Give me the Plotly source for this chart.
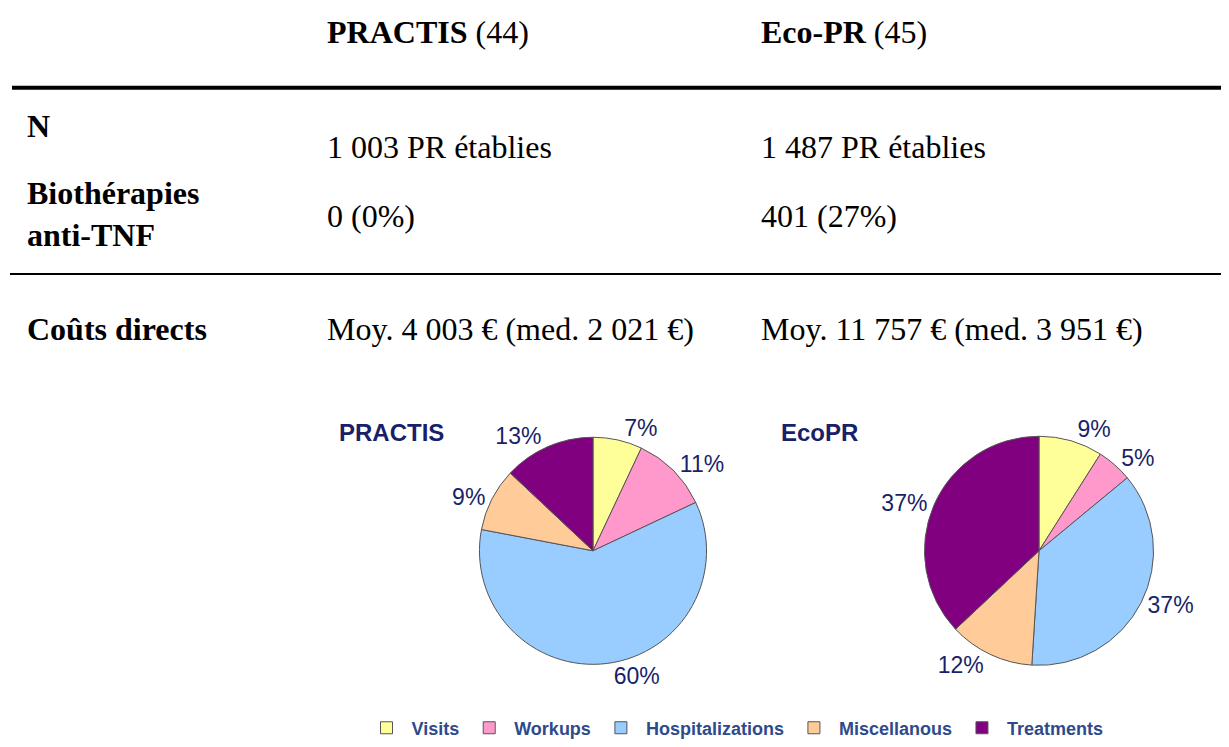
import plotly.graph_objects as go

# the page body has an 8px margin, so the figure is drawn 8px in and sized to fit
OFF = 8
W, H = 1229 - OFF, 747 - OFF

# cost breakdown, % of direct costs
categories = ["Visits", "Workups", "Hospitalizations", "Miscellanous", "Treatments"]
practis_pct = [7, 11, 60, 9, 13]
ecopr_pct = [9, 5, 37, 12, 37]
slice_colors = ["#ffff99", "#ff99cc", "#99ccff", "#ffcc99", "#800080"]

# table text
col_heads = ["<b>PRACTIS</b> (44)", "<b>Eco-PR</b> (45)"]
row_heads = ["<b>N</b>", "<b>Biothérapies<br>anti-TNF</b>", "<b>Coûts directs</b>"]
n_vals = ["1 003 PR établies", "1 487 PR établies"]
tnf_vals = ["0 (0%)", "401 (27%)"]
cost_vals = ["Moy. 4 003 € (med. 2 021 €)", "Moy. 11 757 € (med. 3 951 €)"]
pie_titles = ["PRACTIS", "EcoPR"]

SANS = "Liberation Sans, Arial, sans-serif"


def px(x):
    return (x - OFF) / W


def py(y):
    return 1 - (y - OFF) / H


def pie_domain(cx, cy, r):
    return dict(x=[px(cx - r), px(cx + r)], y=[py(cy + r), py(cy - r)])


fig = go.Figure()
for vals, dom, show in [(practis_pct, pie_domain(593, 553, 114), True),
                        (ecopr_pct, pie_domain(1039, 553, 115), False)]:
    fig.add_trace(go.Pie(labels=categories, values=vals, sort=False,
                         direction="clockwise", rotation=0,
                         marker=dict(colors=slice_colors, line=dict(color="#555555", width=1)),
                         texttemplate="%{value}%", textposition="outside",
                         textfont=dict(family=SANS, size=23, color="#1a1f6a"),
                         domain=dom, showlegend=show, hoverinfo="label+percent"))

serif = dict(family="Liberation Serif, Times New Roman, serif", size=32, color="black")
ann = []
col_x = [325, 759]
for i in range(2):
    ann.append(dict(x=px(col_x[i]), y=py(32), text=col_heads[i]))
    ann.append(dict(x=px(col_x[i]), y=py(148), text=n_vals[i]))
    ann.append(dict(x=px(col_x[i]), y=py(217), text=tnf_vals[i]))
    ann.append(dict(x=px(col_x[i]), y=py(330), text=cost_vals[i]))
ann.append(dict(x=px(25), y=py(126), text=row_heads[0]))
ann.append(dict(x=px(25), y=py(215), text=row_heads[1]))
ann.append(dict(x=px(25), y=py(330), text=row_heads[2]))
for a in ann:
    a.update(xref="paper", yref="paper", xanchor="left", yanchor="middle",
             showarrow=False, font=serif, align="left")

for t, x in zip(pie_titles, [391, 820]):
    ann.append(dict(x=px(x), y=py(434), xref="paper", yref="paper", text="<b>" + t + "</b>",
                    showarrow=False, xanchor="center", yanchor="middle",
                    font=dict(family=SANS, size=24, color="#1a1f6a")))

shapes = [
    dict(type="line", xref="paper", yref="paper", x0=px(12), x1=1, y0=py(88), y1=py(88),
         line=dict(color="black", width=4)),
    dict(type="line", xref="paper", yref="paper", x0=px(10), x1=1, y0=py(275), y1=py(275),
         line=dict(color="black", width=2)),
]

fig.update_layout(width=W, height=H, margin=dict(l=0, r=0, t=0, b=0),
                  paper_bgcolor="white", plot_bgcolor="white",
                  annotations=ann, shapes=shapes,
                  legend=dict(orientation="h", x=px(735), y=py(731), xanchor="center",
                              yanchor="middle", traceorder="normal", itemwidth=40,
                              font=dict(family=SANS, size=18, color="#2e4a8c", weight="bold")))
fig.write_html("out.html")
